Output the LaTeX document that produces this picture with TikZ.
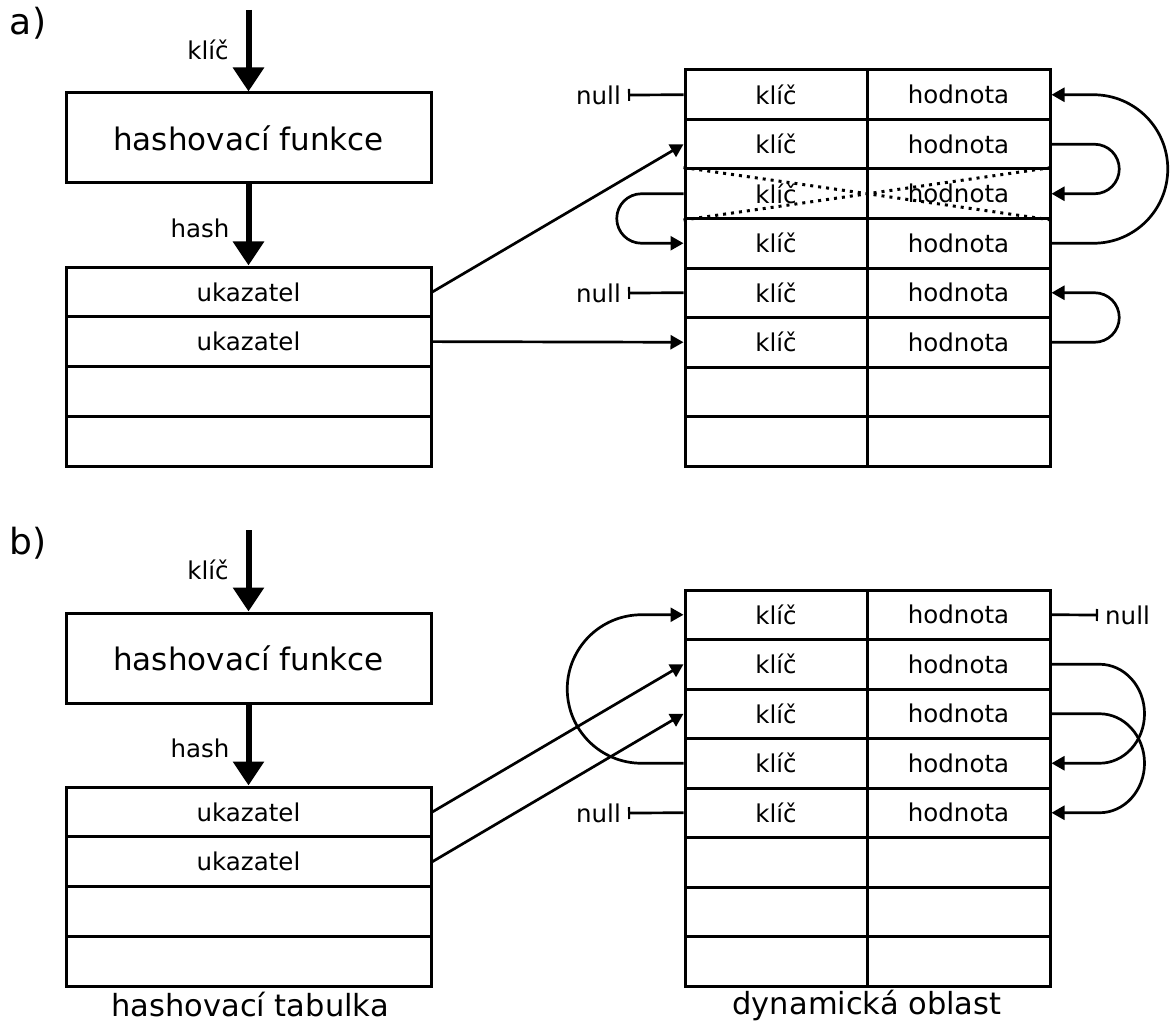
\documentclass[tikz,border=0pt]{standalone}
\usepackage{fontspec}
\setmainfont{DejaVu Sans}
\usetikzlibrary{arrows.meta}
\tikzset{
  box/.style={draw, line width=3pt, inner sep=0pt},
  cell/.style={box, minimum width=182pt, minimum height=49.5pt, font=\fontsize{24.5}{28}\selectfont},
  vcell/.style={cell, minimum width=183pt},
  prow/.style={box, minimum width=365pt, minimum height=49.75pt, font=\fontsize{24.5}{28}\selectfont},
  hfbox/.style={box, minimum width=365pt, minimum height=90pt, font=\fontsize{31}{36}\selectfont},
  lbl/.style={inner sep=0pt, font=\fontsize{24.5}{28}\selectfont},
  nulllbl/.style={inner sep=7pt, anchor=east, font=\fontsize{24.5}{28}\selectfont},
  caption/.style={inner sep=0pt, font=\fontsize{30.5}{36}\selectfont},
  panel/.style={inner sep=0pt, font=\fontsize{36}{42}\selectfont},
  bigarrow/.style={line width=6pt, -{Triangle[length=24pt, width=30pt]}},
  link/.style={line width=2.7pt, -{Triangle[length=13pt, width=14pt]}},
  nulllink/.style={line width=2.7pt, -{Bar[width=12pt, line width=2.2pt]}},
  crossed/.style={line width=3pt, dash pattern=on 3pt off 5pt},
}
\begin{document}
\begin{tikzpicture}[x=1pt, y=-1pt]
  \useasboundingbox (0,0) rectangle (1170,1027);

  % two panels: hash function, pointer table and dynamic storage area
  \foreach \p/\dy/\used/\tag in {a/0/6/a), b/520/5/b)} {
    \begin{scope}[shift={(0,\dy)}]
      \node[panel] (\p-tag) at (28,23) {\tag};
      \coordinate (\p-in) at (248.5,10);
      \node[hfbox] (\p-hf) at (248.5,138) {hashovací funkce};
      \node[lbl] (\p-key) at (208,50) {klíč};
      \node[lbl] (\p-hash) at (200,228) {hash};
      \foreach \i in {1,...,4} {
        \ifnum\i<3 \def\pt{ukazatel}\else\def\pt{}\fi
        \node[prow] (\p-p\i) at (248.5,{267+49.75*\i-24.875}) {\pt};
      }
      \foreach \i in {1,...,8} {
        \ifnum\i>\used \def\kt{}\def\vt{}\else\def\kt{klíč}\def\vt{hodnota}\fi
        \node[cell] (\p-k\i) at (776,{70+49.5*\i-24.75}) {\kt};
        \node[vcell] (\p-v\i) at (958.5,{70+49.5*\i-24.75}) {\vt};
      }
      \draw[bigarrow] (\p-in) -- (\p-hf.north);
      \draw[bigarrow] (\p-hf.south) -- (\p-p1.north);
    \end{scope}
  }

  % panel a: chains in the storage area
  \draw[link] (a-p1.east) -- (a-k2.west);
  \draw[link] (a-p2.east) -- (a-k6.west);
  \node[nulllbl] (a-null1) at (628,95) {null};
  \node[nulllbl] (a-null5) at (628,293) {null};
  \draw[nulllink] (a-k1.west) -- (a-null1.east);
  \draw[nulllink] (a-k5.west) -- (a-null5.east);
  \draw[link] (a-v2.east) -- ++(43,0) arc[start angle=-90, end angle=90, radius=24.75] -- (a-v3.east);
  \draw[link] (a-v4.east) -- ++(42,0) arc[start angle=90, end angle=-90, radius=74.25] -- (a-v1.east);
  \draw[link] (a-k3.west) -- ++(-42,0) arc[start angle=-90, end angle=-270, radius=24.75] -- (a-k4.west);
  \draw[link] (a-v6.east) -- ++(43,0) arc[start angle=90, end angle=-90, radius=24.75] -- (a-v5.east);
  % removed entry
  \draw[crossed] (a-k3.north west) -- (a-v3.south east);
  \draw[crossed] (a-k3.south west) -- (a-v3.north east);

  % panel b
  \draw[link] (b-p1.east) -- (b-k2.west);
  \draw[link] (b-p2.east) -- (b-k3.west);
  \node[nulllbl, anchor=west] (b-null1) at (1098,615) {null};
  \node[nulllbl] (b-null5) at (628,813) {null};
  \draw[nulllink] (b-v1.east) -- (b-null1.west);
  \draw[nulllink] (b-k5.west) -- (b-null5.east);
  \draw[link] (b-k4.west) -- ++(-42,0) arc[start angle=90, end angle=270, radius=74.25] -- (b-k1.west);
  \draw[link] (b-v2.east) -- ++(48,0) arc[start angle=-90, end angle=90, x radius=45, y radius=49.5] -- (b-v4.east);
  \draw[link] (b-v3.east) -- ++(48,0) arc[start angle=-90, end angle=90, x radius=45, y radius=49.5] -- (b-v5.east);

  \node[caption] (cap-ht) at (250,1005) {hashovací tabulka};
  \node[caption] (cap-do) at (867,1005) {dynamická oblast};
\end{tikzpicture}
\end{document}
